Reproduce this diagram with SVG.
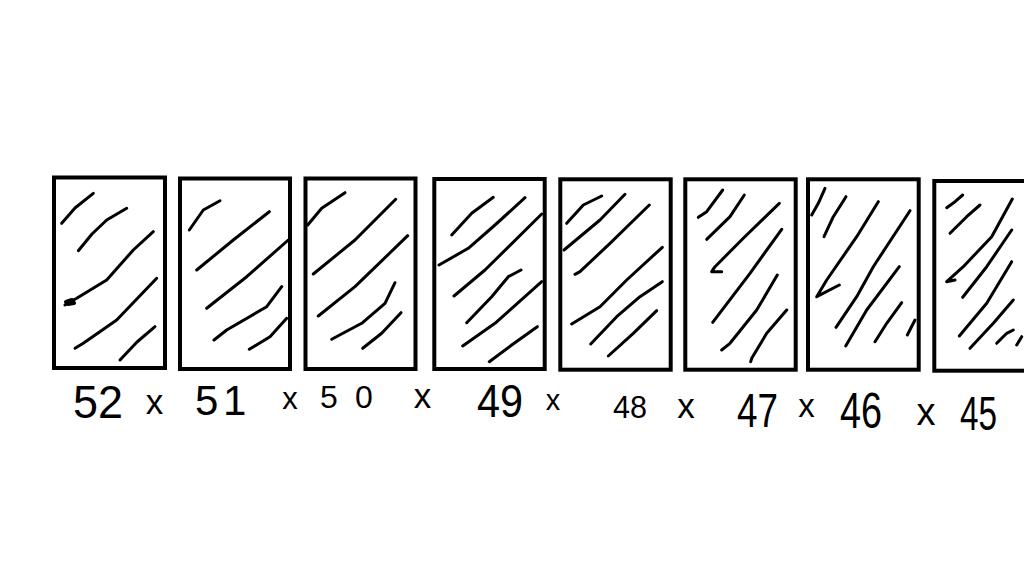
<svg xmlns="http://www.w3.org/2000/svg" width="1024" height="576" viewBox="0 0 1024 576">
<style>
.card{fill:#fff;stroke:#000;stroke-width:4}
.h{fill:none;stroke:#000;stroke-width:3;stroke-linecap:round;stroke-linejoin:round}
.n{font-family:"Liberation Sans",Arial,sans-serif;fill:#000}
.x{font-family:"Liberation Sans",Arial,sans-serif;fill:#000;text-anchor:middle}
</style>
<rect width="1024" height="576" fill="#fff"/>
<g id="card-52">
<rect class="card" x="54" y="177.5" width="111" height="190.5"/>
<polyline class="h" points="61.7,223.3 75,208 93.3,193.3"/>
<polyline class="h" points="78.3,250.7 92,234 106.7,220 126.7,208.3"/>
<polyline class="h" points="65,305 76.7,298.3 106.7,280 133.3,250 153.3,231.7"/>
<polyline class="h" points="66,302 72,300 74,303 68,304" style="stroke-width:4"/>
<polyline class="h" points="75,348.3 83.3,343.3 116.7,320 156.7,278.3"/>
<polyline class="h" points="120,360 137,342 155,326.7"/>
</g>
<g id="card-51">
<rect class="card" x="180" y="178.5" width="110" height="190.5"/>
<polyline class="h" points="189.3,230 203.3,210 220,200.7"/>
<polyline class="h" points="196.7,270 233.3,240 269.3,211.7"/>
<polyline class="h" points="206.7,308.3 246.7,276.7 288.3,240"/>
<polyline class="h" points="214,340 226.7,330 266.7,306.7 281.7,286.7"/>
<polyline class="h" points="249.3,349.3 270,336.7 286.7,318.3"/>
</g>
<g id="card-50">
<rect class="card" x="305.5" y="178.5" width="110" height="190.5"/>
<polyline class="h" points="307.7,225 321.7,208.3 345,192.7"/>
<polyline class="h" points="313.3,274 355,240 395.7,199.3"/>
<polyline class="h" points="318.3,316 355,286.7 407.7,235.7"/>
<polyline class="h" points="331.7,339.3 361.7,323.3 385,303.3 395,282.7"/>
<polyline class="h" points="362.7,348.3 381.7,333.3 401,312.7"/>
</g>
<g id="card-49">
<rect class="card" x="434.3" y="179" width="110.4" height="190"/>
<polyline class="h" points="451.7,235 471.7,213.3 493.3,197.3"/>
<polyline class="h" points="439,265 468.3,248.3 495,225 525,197.7"/>
<polyline class="h" points="454,296 485,270 541.7,214"/>
<polyline class="h" points="466.7,322.7 491.7,296.7 508.3,276.7 521,270"/>
<polyline class="h" points="462.7,346 495,323.3 541.7,281.7"/>
<polyline class="h" points="489.3,361.7 511.7,345 537.3,326.7"/>
</g>
<g id="card-48">
<rect class="card" x="560.3" y="179.3" width="110.4" height="190.4"/>
<polyline class="h" points="566.7,223.3 583.3,205 601.7,196"/>
<polyline class="h" points="564,250 600,220 625,194.3"/>
<polyline class="h" points="575,274.3 580,271.7 610,243.3 649.3,205"/>
<polyline class="h" points="571.7,324 600,306.7 626.7,280 662.3,247.3"/>
<polyline class="h" points="590.7,344 616.7,316.7 640,296.7 662.3,281.7"/>
<polyline class="h" points="608.3,356 633.3,333.3 656.7,310.7"/>
</g>
<g id="card-47">
<rect class="card" x="685.3" y="179.3" width="110.4" height="190.4"/>
<polyline class="h" points="698.3,217.3 706.7,211.7 722.7,190"/>
<polyline class="h" points="706.7,239.3 730,216.7 744.3,195"/>
<polyline class="h" points="721.7,271.7 711.7,271.7 715,266.7 743.3,238.3 779.3,203.3"/>
<polyline class="h" points="712.7,322.3 750,273.3 781.7,229.3"/>
<polyline class="h" points="721.7,350 730,343.3 756.7,310 777.3,275"/>
<polyline class="h" points="750.7,361.7 751.7,358.3 766.7,333.3 786.7,310"/>
</g>
<g id="card-46">
<rect class="card" x="808" y="179.3" width="110.7" height="190.4"/>
<polyline class="h" points="811.7,215 818.3,203.3 825,188.3"/>
<polyline class="h" points="824,236.7 833.3,216.7 846,196.7"/>
<polyline class="h" points="839.3,285 816.7,296.7 826.7,280 856.7,236.7 878.3,201.7"/>
<polyline class="h" points="836,327.3 856.7,296.7 873.3,266.7 910,210.7"/>
<polyline class="h" points="845.7,346 866.7,310 899.3,266.7"/>
<polyline class="h" points="875,341.7 886.7,323.3 901.7,302.7"/>
<polyline class="h" points="907.3,335 915,320"/>
</g>
<g id="card-45">
<rect class="card" x="934.3" y="181" width="112" height="189.7"/>
<polyline class="h" points="946.7,207.7 955,201.7 962.7,195"/>
<polyline class="h" points="950,233.3 966.7,216.7 980,205"/>
<polyline class="h" points="955,280 946.7,281.7 963.3,266.7 991.7,236.7 1012.3,199"/>
<polyline class="h" points="962.7,297.3 986.7,266.7 1011.7,230"/>
<polyline class="h" points="959.3,336 986.7,303.3 1011.7,261.7"/>
<polyline class="h" points="970,348.3 993.3,323.3 1013.3,300"/>
<polyline class="h" points="996.7,343.3 1006.7,333.3 1013.3,330"/>
<polyline class="h" points="1016.7,345 1021.7,336.7"/>
</g>
<g id="labels">
<text class="n" x="73" y="418" font-size="46" textLength="50" lengthAdjust="spacingAndGlyphs">52</text>
<text class="x" x="154.5" y="414" font-size="35">x</text>
<text class="n" x="195 223" y="415" font-size="42">51</text>
<text class="x" x="290" y="409" font-size="31">x</text>
<text class="n" x="320 355" y="408" font-size="32">50</text>
<text class="x" x="422.5" y="408" font-size="35">x</text>
<text class="n" x="477" y="417" font-size="47" textLength="46" lengthAdjust="spacingAndGlyphs">49</text>
<text class="x" x="553" y="410" font-size="29">x</text>
<text class="n" x="613" y="418" font-size="31" textLength="34" lengthAdjust="spacingAndGlyphs">48</text>
<text class="x" x="686" y="418" font-size="35">x</text>
<text class="n" x="737" y="427" font-size="48" textLength="41" lengthAdjust="spacingAndGlyphs">47</text>
<text class="x" x="806.5" y="417" font-size="33">x</text>
<text class="n" x="840" y="428" font-size="50" textLength="42" lengthAdjust="spacingAndGlyphs">46</text>
<text class="x" x="926" y="425" font-size="38">x</text>
<text class="n" x="960" y="430" font-size="48" textLength="37" lengthAdjust="spacingAndGlyphs">45</text>
</g>
</svg>
